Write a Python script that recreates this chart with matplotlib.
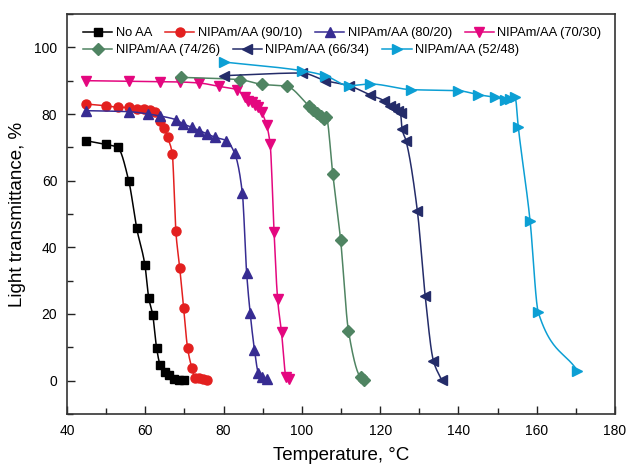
import numpy as np
import matplotlib
matplotlib.use("Agg")
import matplotlib.pyplot as plt
from matplotlib.ticker import MultipleLocator

plt.rcParams["font.family"] = ["Liberation Sans", "DejaVu Sans"]

# temperature (C) / light transmittance (%)
noaa_t = [44.8, 49.9, 52.9, 55.8, 57.8, 59.9, 60.9, 61.9, 62.9, 63.8, 65.0, 66.0, 67.4, 68.6, 69.8]
noaa_y = [72.0, 70.9, 70.0, 59.8, 45.7, 34.7, 24.7, 19.7, 9.7, 4.7, 2.7, 1.7, 0.5, 0.3, 0.3]

s90_t = [44.8, 49.9, 52.9, 55.8, 57.8, 59.7, 61.2, 62.5, 63.8, 64.9, 65.7, 66.9, 67.8, 68.8, 69.8,
         70.8, 71.9, 72.7, 73.7, 74.7, 75.7]
s90_y = [83.0, 82.5, 82.0, 82.0, 81.5, 81.5, 81.1, 80.7, 77.8, 75.9, 73.0, 68.0, 44.8, 33.8, 21.8,
         9.8, 3.8, 0.9, 0.7, 0.5, 0.3]

s80_t = [44.8, 55.8, 60.8, 63.8, 67.8, 69.7, 71.9, 73.8, 75.8, 77.9, 80.7, 82.8, 84.8, 85.9, 86.8,
         87.9, 88.9, 89.7, 91.0]
s80_y = [81.0, 80.7, 80.0, 79.4, 78.3, 77.0, 76.0, 75.0, 74.0, 73.0, 72.0, 68.3, 56.2, 32.2, 20.2,
         9.2, 2.2, 1.0, 0.5]

s70_t = [44.8, 55.8, 63.8, 68.9, 73.8, 78.8, 83.4, 85.5, 86.3, 87.2, 88.0, 88.9, 89.7, 91.0, 91.9,
         92.9, 93.8, 94.8, 96.0, 96.8]
s70_y = [90.0, 89.8, 89.7, 89.6, 89.3, 88.3, 87.3, 85.0, 84.0, 83.6, 82.6, 82.1, 80.6, 76.6, 70.9,
         44.5, 24.5, 14.5, 1.0, 0.5]

s74_t = [69.0, 84.2, 89.7, 96.1, 101.7, 102.8, 103.8, 104.8, 105.6, 106.2, 107.9, 109.9, 111.9,
         115.0, 116.0]
s74_y = [91.0, 90.3, 88.9, 88.3, 82.5, 81.2, 80.3, 79.3, 78.5, 79.2, 62.0, 42.2, 15.0, 1.0, 0.2]

s66_t = [80.0, 100.0, 106.0, 112.0, 117.5, 121.0, 122.5, 123.5, 124.5, 125.2, 125.6, 126.6, 129.5,
         131.5, 133.6, 135.7]
s66_y = [91.5, 92.3, 90.0, 88.5, 85.7, 84.0, 82.5, 81.8, 81.0, 80.3, 75.5, 72.0, 51.0, 25.5, 6.0, 0.2]

s52_t = [80.0, 100.0, 106.0, 112.0, 117.5, 128.0, 140.0, 145.0, 149.4, 152.0, 153.2, 154.5, 155.3,
         158.3, 160.4, 170.4]
s52_y = [95.6, 93.0, 91.5, 88.5, 89.0, 87.3, 87.0, 85.8, 85.0, 84.3, 84.6, 85.0, 76.0, 48.0, 20.5, 3.0]

labels = ["No AA", "NIPAm/AA (90/10)", "NIPAm/AA (80/20)", "NIPAm/AA (70/30)",
          "NIPAm/AA (74/26)", "NIPAm/AA (66/34)", "NIPAm/AA (52/48)"]


def pchip_curve(x, y, n=400):
    # monotone cubic line through the measured points (drawing only)
    x = np.asarray(x, float)
    y = np.asarray(y, float)
    h = np.diff(x)
    d = np.diff(y) / h
    m = np.zeros_like(y)
    for k in range(1, len(x) - 1):
        if d[k - 1] * d[k] > 0:
            w1 = 2 * h[k] + h[k - 1]
            w2 = h[k] + 2 * h[k - 1]
            m[k] = (w1 + w2) / (w1 / d[k - 1] + w2 / d[k])
    m[0] = d[0]
    m[-1] = d[-1]
    xs = np.linspace(x[0], x[-1], n)
    i = np.clip(np.searchsorted(x, xs) - 1, 0, len(x) - 2)
    t = (xs - x[i]) / h[i]
    h00 = 2 * t**3 - 3 * t**2 + 1
    h10 = t**3 - 2 * t**2 + t
    h01 = -2 * t**3 + 3 * t**2
    h11 = t**3 - t**2
    ys = h00 * y[i] + h10 * h[i] * m[i] + h01 * y[i + 1] + h11 * h[i] * m[i + 1]
    return xs, ys


series = [
    (noaa_t, noaa_y, "#000000", "s", 6.0),
    (s90_t, s90_y, "#e3201f", "o", 6.5),
    (s80_t, s80_y, "#372c92", "^", 7.5),
    (s70_t, s70_y, "#e4077f", "v", 7.5),
    (s74_t, s74_y, "#4f8462", "D", 6.5),
    (s66_t, s66_y, "#242c69", "<", 7.5),
    (s52_t, s52_y, "#0c9fd4", ">", 7.5),
]

fig = plt.figure(figsize=(6.28, 4.67), dpi=100)
ax = fig.add_axes([0.1067, 0.1135, 0.8726, 0.8565])

handles = []
for (t, y, c, mk, ms), lab in zip(series, labels):
    xs, ys = pchip_curve(t, y)
    ax.plot(xs, ys, color=c, lw=1.1)
    ax.plot(t, y, linestyle="none", marker=mk, color=c, ms=ms, mec=c)
    h, = ax.plot([], [], color=c, lw=1.1, marker=mk, ms=ms, label=lab)
    handles.append(h)

ax.set_xlim(40, 180)
ax.set_ylim(-10, 110)
ax.xaxis.set_major_locator(MultipleLocator(20))
ax.xaxis.set_minor_locator(MultipleLocator(10))
ax.yaxis.set_major_locator(MultipleLocator(20))
ax.yaxis.set_minor_locator(MultipleLocator(10))
ax.set_yticks([0, 20, 40, 60, 80, 100])
ax.tick_params(which="both", direction="in", labelsize=10, color="#222222")
ax.tick_params(which="major", length=6, width=1.0, pad=7)
ax.tick_params(which="minor", length=4, width=1.0)
for s in ax.spines.values():
    s.set_linewidth(1.2)
    s.set_color("#333333")

ax.set_xlabel("Temperature, \u00b0C", fontsize=13.5, labelpad=7)
ax.set_ylabel("Light transmittance, %", fontsize=13.5, labelpad=6)

kw = dict(frameon=False, fontsize=9.25, handlelength=2.3, handletextpad=0.25,
          columnspacing=1.0, borderpad=0, borderaxespad=0, loc="center left")
leg1 = ax.legend(handles=handles[:4], ncol=4, bbox_to_anchor=(0.029, 0.9525), **kw)
ax.add_artist(leg1)
ax.legend(handles=handles[4:], ncol=3, bbox_to_anchor=(0.029, 0.91), **kw)

fig.savefig("out.png", dpi=100)
